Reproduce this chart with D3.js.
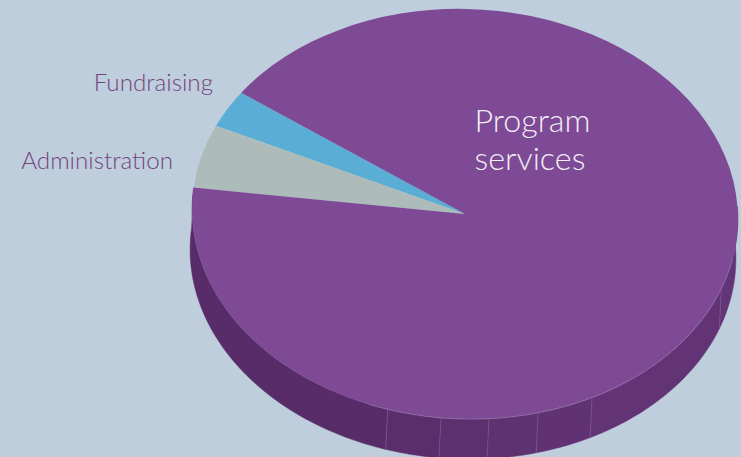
<!DOCTYPE html>
<html lang="en">
<head>
<meta charset="utf-8">
<title>Expenses</title>
<script src="https://cdn.jsdelivr.net/npm/d3@7"></script>
<style>
  html, body { margin: 0; padding: 0; background: #becedc; overflow: hidden; }
  svg { display: block; }
  text { font-family: Lato, "Open Sans", sans-serif; font-weight: 300; }
</style>
</head>
<body>
<div id="chart"></div>
<script>
// slices, clockwise from the edge between program services and fundraising
var categories = ["Fundraising", "Administration", "Program services"];
var values = [3, 5, 92];
var sliceColors = ["#5aaed6", "#aebbbb", "#7e4a95"];

// the side wall is made of facets, angle in degrees clockwise from the top
var facetEdges = [85, 108.4, 150.6, 162.8, 173.3, 183.4, 194.8, 274.4];
var facetColors = ["#633578", "#623476", "#603273", "#5e3170", "#5c2f6e", "#5a2d6b", "#582c69"];

var width = 741, height = 457;
var cx = 465, cy = 214, rx = 273, ry = 205;   // top face
var tiltDeg = 2.2;                            // the ellipse is slightly rotated
var wallDx = -2, wallDy = 40;                 // offset of the bottom rim
var startDeg = -56.7;

var svg = d3.select("#chart").append("svg")
    .attr("width", width)
    .attr("height", height);

// unit circle to pixels
var x = d3.scaleLinear().domain([-1, 1]).range([-rx, rx]);
var y = d3.scaleLinear().domain([-1, 1]).range([ry, -ry]);
var rad = d3.scaleLinear().domain([0, 180]).range([0, Math.PI]);

function rim(a, dx, dy) {
  var px = x(Math.sin(rad(a))), py = y(Math.cos(rad(a)));
  var t = rad(tiltDeg);
  return [cx + px * Math.cos(t) - py * Math.sin(t) + dx,
          cy + px * Math.sin(t) + py * Math.cos(t) + dy];
}

var line = d3.line();

// side wall
d3.pairs(facetEdges).forEach(function (p, i) {
  var angles = d3.range(p[0], p[1], 1).concat([p[1]]);
  var pts = angles.map(function (a) { return rim(a, 0, 0); })
    .concat(angles.slice().reverse().map(function (a) { return rim(a, wallDx, wallDy); }));
  svg.append("path")
    .attr("d", line(pts) + "Z")
    .attr("fill", facetColors[i])
    .attr("stroke", facetColors[i])
    .attr("stroke-width", 0.5);
});

// faint seams between the facets
facetEdges.slice(1, -1).forEach(function (a) {
  svg.append("path")
    .attr("d", line([rim(a, 0, 0), rim(a, wallDx, wallDy)]))
    .attr("stroke", "#7f5a94")
    .attr("stroke-width", 0.7)
    .attr("fill", "none");
});

// top face
var pie = d3.pie().sort(null)
    .startAngle(rad(startDeg))
    .endAngle(rad(startDeg) - 2 * Math.PI);
var arc = d3.arc().innerRadius(0).outerRadius(1);

svg.append("g")
    .attr("transform", "translate(" + cx + "," + cy + ") rotate(" + tiltDeg + ") scale(" + rx + "," + ry + ")")
  .selectAll("path")
  .data(pie(values))
  .enter().append("path")
    .attr("d", arc)
    .attr("fill", function (d, i) { return sliceColors[i]; });

// light edge on the front of the top face, only where the wall is lit
svg.append("path")
    .attr("d", line(d3.range(100, 200, 1).map(function (a) { return rim(a, 0, 0); })))
    .attr("fill", "none")
    .attr("stroke", "#9a78ab")
    .attr("stroke-width", 0.6);

// labels
svg.append("text")
    .attr("x", 213).attr("y", 91)
    .attr("text-anchor", "end")
    .attr("font-size", 24.2)
    .attr("fill", "#744380")
    .text(categories[0]);

svg.append("text")
    .attr("x", 173).attr("y", 169)
    .attr("text-anchor", "end")
    .attr("font-size", 24.2)
    .attr("fill", "#744380")
    .text(categories[1]);

svg.append("text")
    .attr("font-size", 32.3)
    .attr("fill", "#f1edf5")
    .selectAll("tspan")
    .data(categories[2].split(" "))
    .enter().append("tspan")
    .attr("x", 474.5)
    .attr("y", function (d, i) { return 132 + i * 38; })
    .text(function (d) { return d; });
</script>
</body>
</html>
